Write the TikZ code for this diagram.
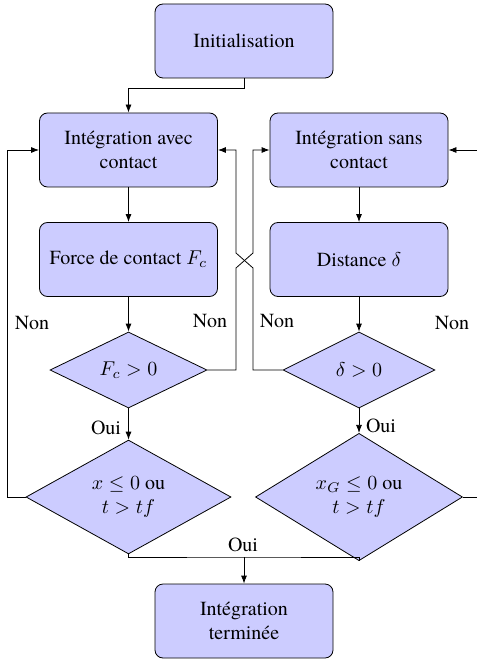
\documentclass[tikz,border=0pt]{standalone}
\usepackage[no-math]{fontspec}
\setmainfont{TeX Gyre Termes}
\usetikzlibrary{shapes.geometric,arrows.meta}
\begin{document}
\begin{tikzpicture}[x=0.5pt,y=-0.5pt,
  font=\rmfamily,
  box/.style={draw, fill=blue!20, rounded corners=4pt, minimum width=89pt,
    minimum height=37pt, align=center, inner sep=2pt},
  test/.style={draw, fill=blue!20, diamond, inner sep=0pt, align=center},
  arr/.style={-{Latex[length=4pt,width=3pt]}},
  lbl/.style={inner sep=0pt}
]
\useasboundingbox (0,0) rectangle (476,662);

% process boxes
\node[box] (init) at (244,41) {Initialisation};
\node[box] (avc)  at (128.5,150) {Intégration avec\\contact};
\node[box] (sans) at (359,150) {Intégration sans\\contact};
\node[box] (force) at (128.5,259.5) {Force de contact $F_c$};
\node[box] (dist)  at (359,259.5) {Distance $\delta$};
\node[box] (fin)   at (244,621) {Intégration\\terminée};

% decisions
\node[test, minimum width=78.5pt, minimum height=38pt] (dFc) at (128.5,370) {$F_c>0$};
\node[test, minimum width=76pt, minimum height=38pt] (dDel) at (359,370) {$\delta>0$};
\node[test, minimum width=102.5pt, minimum height=51pt] (dX) at (128.5,497) {$x\le 0$ ou\\$t>tf$};
\node[test, minimum width=103.5pt, minimum height=51pt] (dXG) at (359,497) {$x_G\le 0$ ou\\$t>tf$};

% bend points of the crossing links
\coordinate (a1) at (236,268);
\coordinate (a2) at (253,253);
\coordinate (b1) at (253,268);
\coordinate (b2) at (236,253);
\coordinate (m) at (244,557);

% main flow
\draw[arr] (init.south) -- ++(0,10) -| (avc.north);
\draw[arr] (avc.south) -- (force.north);
\draw[arr] (force.south) -- (dFc.north);
\draw[arr] (dFc.south) -- (dX.north);
\draw[arr] (sans.south) -- (dist.north);
\draw[arr] (dist.south) -- (dDel.north);
\draw[arr] (dDel.south) -- (dXG.north);

% crossing links
\draw[arr] (dFc.east) -| (a1) -- (a2) |- (sans.west);
\draw[arr] (dDel.west) -| (b1) -- (b2) |- (avc.east);

% loops back
\draw[arr] (dX.west) -- ++(-18,0) |- (avc.west);
\draw[arr] (dXG.east) -- ++(18,0) |- (sans.east);

% end
\draw (dX.south) |- (m) -| (dXG.south);
\draw[arr] (m) -- (fin.north);

% labels
\node[lbl] at (32,323) {Non};
\node[lbl] at (210,321) {Non};
\node[lbl] at (277,321) {Non};
\node[lbl] at (452,323) {Non};
\node[lbl] at (106,428) {Oui};
\node[lbl] at (381,426) {Oui};
\node[lbl] at (243,545) {Oui};
\end{tikzpicture}
\end{document}
